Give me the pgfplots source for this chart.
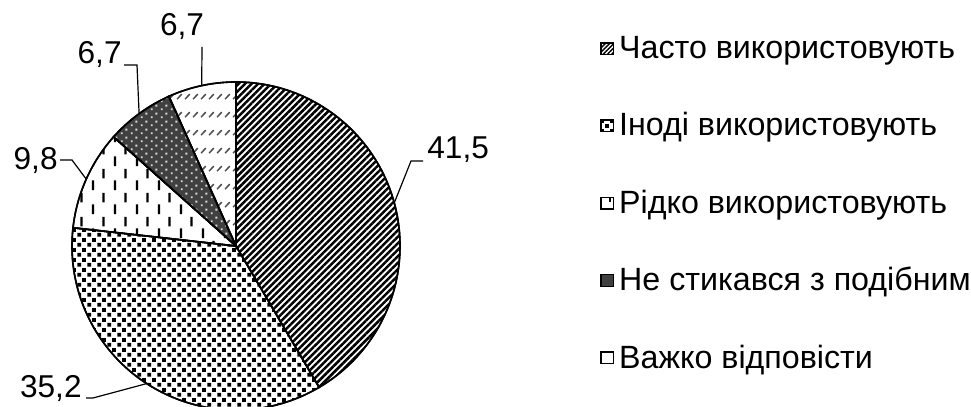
\documentclass[border=0pt]{standalone}
\usepackage{fontspec}
\setmainfont{Liberation Sans}
\usepackage{pgfplots}
\usepackage{pgfplotstable}
\pgfplotsset{compat=1.18}
\usetikzlibrary{patterns.meta, calc}

% patterns of the slices
\tikzdeclarepattern{
  name=SqDots, type=uncolored,
  bounding box={(0,0) and (4.8bp,4.8bp)},
  tile size={(4.8bp,4.8bp)},
  code={
    \fill (0.2bp,0.2bp) rectangle (2.2bp,2.2bp);
    \fill (2.6bp,2.6bp) rectangle (4.6bp,4.6bp);
  }
}
\tikzdeclarepattern{
  name=VDash, type=uncolored,
  bounding box={(0,0) and (11bp,12bp)},
  tile size={(11bp,12bp)},
  code={
    \fill (2bp,0.5bp) rectangle (3.2bp,5.5bp);
    \fill (7.5bp,6.5bp) rectangle (8.7bp,11.5bp);
  }
}
\tikzdeclarepattern{
  name=WDots, type=uncolored,
  bounding box={(0,0) and (5bp,4bp)},
  tile size={(5bp,4bp)},
  code={
    \fill (0.5bp,0.5bp) rectangle (1.5bp,1.5bp);
    \fill (3bp,2.5bp) rectangle (4bp,3.5bp);
  }
}
\tikzdeclarepattern{
  name=Slashes, type=uncolored,
  bounding box={(0,0) and (4bp,9bp)},
  tile size={(4bp,9bp)},
  code={
    \draw[line width=0.8bp] (0.6bp,1bp) -- (3.2bp,3.6bp);
  }
}

\pgfplotstableread{
value
41.5
35.2
9.8
6.7
6.7
}\piedata

% start and end angles of the slices, clockwise from the top
\def\startang{90}
\pgfplotsforeachungrouped \i in {0,...,4}{%
  \pgfplotstablegetelem{\i}{value}\of\piedata
  \pgfmathsetmacro\endang{\startang-\pgfplotsretval*360/99.9}%
  \pgfmathsetmacro\midang{(\startang+\endang)/2}%
  \expandafter\xdef\csname sa\i\endcsname{\startang}%
  \expandafter\xdef\csname ea\i\endcsname{\endang}%
  \expandafter\xdef\csname ma\i\endcsname{\midang}%
  \expandafter\xdef\csname val\i\endcsname{\pgfplotsretval}%
  \global\let\startang\endang
}
\def\R{82bp}
\newcommand\slice[2]{%
  \filldraw[line width=0.8bp, #2] (axis cs:236,246) -- ++(\csname sa#1\endcsname:\R)
    arc[start angle=\csname sa#1\endcsname, end angle=\csname ea#1\endcsname, radius=\R] -- cycle;}
\newcommand\pieval[1]{\pgfmathprintnumber[fixed, precision=1, use comma, assume math mode=true]{\csname val#1\endcsname}}
\newcommand\edgept[1]{($(axis cs:236,246)+(\csname ma#1\endcsname:\R)$)}

\begin{document}
\begin{tikzpicture}[font=\fontsize{15.8bp}{18bp}\selectfont]
\begin{axis}[
  x=0.5bp, y=0.5bp, xmin=0, xmax=971, ymin=0, ymax=407,
  y dir=reverse, hide axis,
  cycle list={{black}},
  legend image code/.code={\draw[line width=0.7bp, draw=black, #1] (0bp,-2.9bp) rectangle (6.2bp,2.9bp);},
  legend style={draw=none, fill=none, at={(axis cs:594,27)}, anchor=north west,
    row sep=20.5bp, font=\fontsize{16.1bp}{18bp}\selectfont,
    nodes={inner sep=2.5bp}},
  legend cell align=left,
]
\coordinate (bl) at (rel axis cs:0,0);
\coordinate (tr) at (rel axis cs:1,1);

\slice{0}{fill=white, postaction={pattern={Lines[angle=45, distance=2.3bp, line width=1.25bp]}}}
\slice{1}{fill=white, postaction={pattern=SqDots}}
\slice{2}{fill=white, postaction={pattern=VDash}}
\slice{3}{fill=black!75, postaction={pattern=WDots, pattern color=white!85!black}}
\slice{4}{fill=white, postaction={pattern=Slashes, pattern color=black!70}}
% redraw outlines on top
\slice{0}{fill=none}
\slice{1}{fill=none}
\slice{2}{fill=none}
\slice{3}{fill=none}
\slice{4}{fill=none}

% leader lines and value labels
\draw[line width=0.6bp] \edgept{0} -- (axis cs:411,161) -- (axis cs:423,161);
\node[anchor=west, inner sep=0] at (axis cs:427,150) {\pieval{0}};
\draw[line width=0.6bp] \edgept{1} -- (axis cs:93,398) -- (axis cs:86,398);
\node[anchor=east, inner sep=0] at (axis cs:82,388) {\pieval{1}};
\draw[line width=0.6bp] \edgept{2} -- (axis cs:72,160) -- (axis cs:60,160);
\node[anchor=east, inner sep=0] at (axis cs:58,160) {\pieval{2}};
\draw[line width=0.6bp] \edgept{3} -- (axis cs:137,65) -- (axis cs:124,65);
\node[anchor=east, inner sep=0] at (axis cs:122,54) {\pieval{3}};
\draw[line width=0.6bp] \edgept{4} -- (axis cs:202,47);
\node[inner sep=0] at (axis cs:182,26) {\pieval{4}};

\addlegendimage{fill=white, postaction={pattern={Lines[angle=45, distance=1.5bp, line width=0.7bp]}}}
\addlegendentry{Часто використовують}
\addlegendimage{fill=white, postaction={pattern=SqDots}}
\addlegendentry{Іноді використовують}
\addlegendimage{fill=white, postaction={pattern=VDash}}
\addlegendentry{Рідко використовують}
\addlegendimage{fill=black!75}
\addlegendentry{Не стикався з подібним}
\addlegendimage{fill=white, postaction={pattern=Slashes, pattern color=black!70}}
\addlegendentry{Важко відповісти}
\end{axis}
\pgfresetboundingbox
\useasboundingbox (bl) rectangle (tr);
\end{tikzpicture}
\end{document}
